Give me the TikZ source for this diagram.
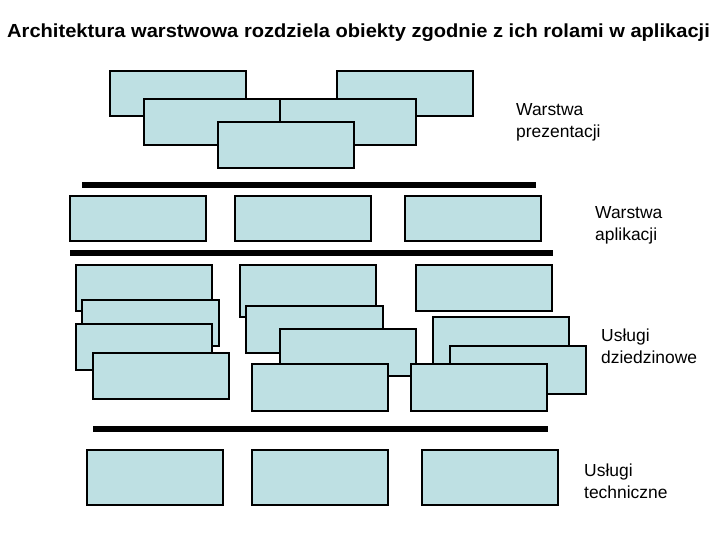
\documentclass[tikz,border=0pt]{standalone}
\usepackage{graphicx}
\usepackage{fontspec}
\setmainfont{Liberation Sans}
\definecolor{boxfill}{RGB}{190,224,227}
\tikzset{
  obj/.style={draw=black,fill=boxfill,line width=1.4bp},
  bar/.style={line width=6bp,black},
  lbl/.style={anchor=base west,inner sep=0pt,font=\fontsize{17.5}{22}\selectfont},
}
\newcommand{\obox}[5]{\path[obj] (#2,#3) rectangle (#4,#5) node[coordinate] (#1) {};}
\begin{document}
\begin{tikzpicture}[x=1bp,y=-1bp]
\useasboundingbox (0,0) rectangle (720,540);
\node[anchor=base west,inner sep=0pt,font=\bfseries\fontsize{19}{22}\selectfont] (title) at (7,37.3) {\scalebox{1.062}[1]{Architektura warstwowa rozdziela obiekty zgodnie z ich rolami w aplikacji}};
% presentation layer
\obox{pa}{110}{71}{246}{116}
\obox{pb}{337}{71}{473}{116}
\obox{pc}{144}{99}{280}{145}
\obox{pd}{280}{99}{416}{145}
\obox{pe}{218}{122}{354}{168}
\coordinate (b1s) at (82,185); \coordinate (b1e) at (536,185);
\draw[bar] (b1s) -- (b1e);
% application layer
\obox{aa}{70}{196}{206}{241}
\obox{ab}{235}{196}{371}{241}
\obox{ac}{405}{196}{541}{241}
\coordinate (b2s) at (70,253); \coordinate (b2e) at (553,253);
\draw[bar] (b2s) -- (b2e);
% domain services
\obox{l1}{76}{265}{212}{311}
\obox{l2}{82}{300}{219}{346}
\obox{l3}{76}{324}{212}{370}
\obox{l4}{93}{353}{229}{399}
\obox{m1}{240}{265}{376}{317}
\obox{m2}{246}{306}{383}{353}
\obox{m3}{280}{329}{416}{376}
\obox{m4}{252}{364}{388}{411}
\obox{r1}{416}{265}{552}{311}
\obox{r2}{433}{317}{569}{364}
\obox{r3}{450}{346}{586}{394}
\obox{r4}{411}{364}{547}{411}
\coordinate (b3s) at (93,428.7); \coordinate (b3e) at (548,428.7);
\draw[bar] (b3s) -- (b3e);
% technical services
\obox{ta}{87}{450}{223}{505}
\obox{tb}{252}{450}{388}{505}
\obox{tc}{422}{450}{558}{505}
% labels
\node[lbl] (l1t) at (516,116) {Warstwa};
\node[lbl] (l1b) at (516,138) {prezentacji};
\node[lbl] (l2t) at (595,219) {Warstwa};
\node[lbl] (l2b) at (595,241) {aplikacji};
\node[lbl] (l3t) at (601,341.7) {Usługi};
\node[lbl] (l3b) at (601,363.7) {dziedzinowe};
\node[lbl] (l4t) at (584,476.5) {Usługi};
\node[lbl] (l4b) at (584,498.5) {techniczne};
\end{tikzpicture}
\end{document}
